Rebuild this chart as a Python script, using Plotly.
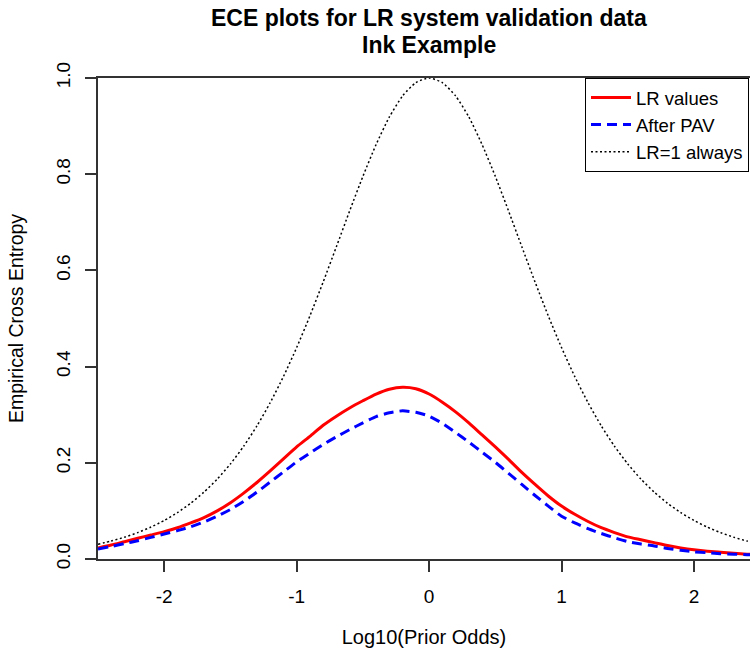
import plotly.graph_objects as go

# Log10 prior odds grid
log_odds = [-2.5, -2.4, -2.3, -2.2, -2.1, -2.0, -1.9, -1.8, -1.7, -1.6, -1.5, -1.4, -1.3, -1.2, -1.1,
            -1.0, -0.9, -0.8, -0.7, -0.6, -0.5, -0.4, -0.3, -0.2, -0.1, 0.0, 0.1, 0.2, 0.3, 0.4,
            0.5, 0.6, 0.7, 0.8, 0.9, 1.0, 1.1, 1.2, 1.3, 1.4, 1.5, 1.6, 1.7, 1.8, 1.9,
            2.0, 2.1, 2.2, 2.3, 2.4, 2.5]

ece_lr = [0.023, 0.029, 0.036, 0.043, 0.050, 0.057, 0.065, 0.075, 0.086, 0.100, 0.117, 0.137, 0.159, 0.183, 0.208,
          0.233, 0.255, 0.278, 0.297, 0.314, 0.329, 0.343, 0.353, 0.357, 0.354, 0.343, 0.326, 0.306, 0.283, 0.258,
          0.233, 0.207, 0.180, 0.155, 0.131, 0.110, 0.093, 0.078, 0.065, 0.055, 0.046, 0.040, 0.034, 0.028, 0.023,
          0.019, 0.016, 0.014, 0.012, 0.010, 0.009]

ece_pav = [0.021, 0.026, 0.032, 0.038, 0.045, 0.052, 0.059, 0.067, 0.077, 0.089, 0.103, 0.120, 0.139, 0.160, 0.181,
           0.202, 0.220, 0.238, 0.254, 0.269, 0.283, 0.296, 0.304, 0.308, 0.305, 0.297, 0.282, 0.263, 0.243, 0.222,
           0.201, 0.178, 0.155, 0.132, 0.110, 0.089, 0.075, 0.063, 0.053, 0.044, 0.036, 0.031, 0.027, 0.022, 0.018,
           0.015, 0.013, 0.011, 0.010, 0.009, 0.008]

ece_neutral = [0.0307, 0.0374, 0.0453, 0.0549, 0.0664, 0.0801, 0.0965, 0.1160, 0.1390, 0.1660, 0.1977, 0.2344, 0.2767, 0.3249, 0.3792,
               0.4395, 0.5054, 0.5759, 0.6492, 0.7236, 0.7955, 0.8617, 0.9190, 0.9628, 0.9904, 1.0000, 0.9904, 0.9628, 0.9190, 0.8617,
               0.7955, 0.7236, 0.6492, 0.5759, 0.5054, 0.4395, 0.3792, 0.3249, 0.2767, 0.2344, 0.1977, 0.1660, 0.1390, 0.1160, 0.0965,
               0.0801, 0.0664, 0.0549, 0.0453, 0.0374, 0.0307]

x_ticks = [-2, -1, 0, 1, 2]
x_tick_labels = ["-2", "-1", "0", "1", "2"]
y_ticks = [0.0, 0.2, 0.4, 0.6, 0.8, 1.0]
y_tick_labels = ["0.0", "0.2", "0.4", "0.6", "0.8", "1.0"]

title_lines = ["ECE plots for LR system validation data", "Ink Example"]

FONT = "Liberation Sans, Arial, sans-serif"

# plot area in pixels: x 98..750, y 78..559
PL, PR, PT, PB = 98, 750, 78, 559

fig = go.Figure()
fig.add_trace(go.Scatter(x=log_odds, y=ece_lr, mode="lines", name="LR values",
                         line=dict(color="#ff0000", width=3, shape="spline", smoothing=0.6)))
fig.add_trace(go.Scatter(x=log_odds, y=ece_pav, mode="lines", name="After PAV",
                         line=dict(color="#0000ff", width=3, dash="10px,6px", shape="spline", smoothing=0.6)))
fig.add_trace(go.Scatter(x=log_odds, y=ece_neutral, mode="lines", name="LR=1 always",
                         line=dict(color="#000000", width=1.5, dash="2px,2.5px", shape="spline", smoothing=0.6)))

def py(pix):
    return (PB - pix) / (PB - PT)

def px(pix):
    return (pix - PL) / (PR - PL)

for txt, ycen in zip(title_lines, [18, 45]):
    fig.add_annotation(text="<b>%s</b>" % txt, xref="paper", yref="paper",
                       x=px(429), y=py(ycen), xanchor="center", yanchor="middle",
                       showarrow=False, font=dict(size=23, family=FONT, color="#000000"))

fig.update_layout(
    width=750, height=659,
    margin=dict(l=PL, r=750 - PR, t=PT, b=659 - PB),
    paper_bgcolor="white", plot_bgcolor="white",
    font=dict(family=FONT, color="#000000"),
    showlegend=True,
    legend=dict(x=px(585), xanchor="left", y=1, yanchor="top",
                bordercolor="#000000", borderwidth=1, bgcolor="white",
                font=dict(size=18.5, family=FONT), tracegroupgap=0,
                itemwidth=40),
    xaxis=dict(range=[-2.5, 2.423], tickmode="array", tickvals=x_ticks, ticktext=x_tick_labels,
               showgrid=False, zeroline=False, showline=True, linecolor="#333333", linewidth=1.5,
               mirror=True, ticks="outside", ticklen=11, tickwidth=1.5, tickcolor="#333333",
               tickfont=dict(size=19, family=FONT), ticklabelstandoff=8,
               title=dict(text="Log10(Prior Odds)", font=dict(size=20, family=FONT), standoff=24)),
    yaxis=dict(range=[0, 1], tickmode="array", tickvals=y_ticks, ticktext=y_tick_labels,
               showgrid=False, zeroline=False, showline=True, linecolor="#333333", linewidth=1.5,
               ticks="outside", ticklen=11, tickwidth=1.5, tickcolor="#333333", tickangle=-90,
               tickfont=dict(size=19, family=FONT), ticklabelstandoff=8,
               title=dict(text="Empirical Cross Entropy", font=dict(size=19.5, family=FONT), standoff=24)),
)

fig.write_html("out.html")
